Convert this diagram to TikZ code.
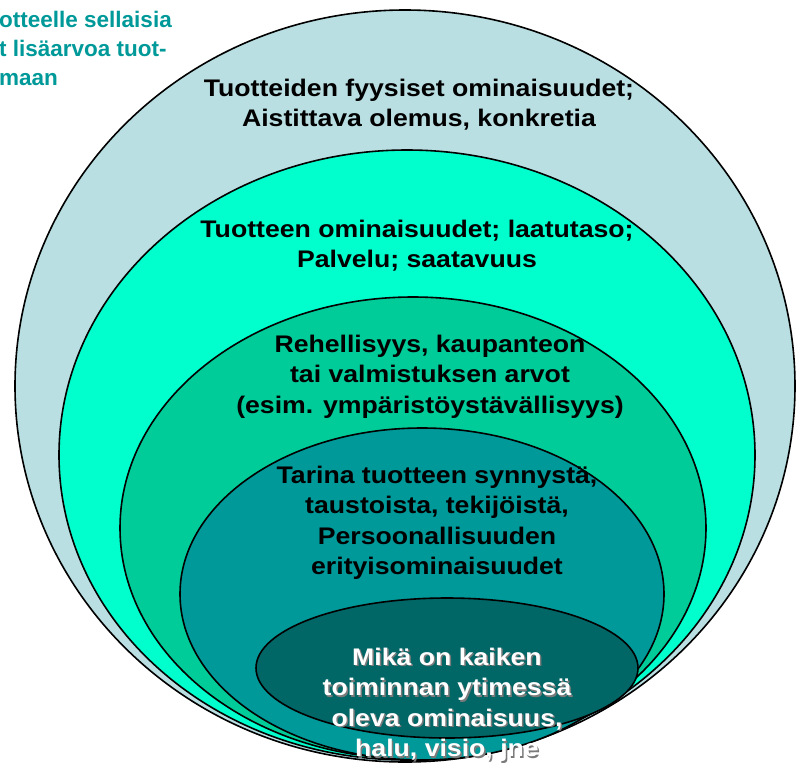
\documentclass[tikz,border=0pt]{standalone}
\usepackage{fontspec}
\setmainfont{Liberation Sans}
\newfontfamily\widefont[FakeStretch=1.11]{Liberation Sans}
\definecolor{ringA}{HTML}{B9DFE3}
\definecolor{ringB}{HTML}{00FFCC}
\definecolor{ringC}{HTML}{00CC99}
\definecolor{ringD}{HTML}{009999}
\definecolor{ringE}{HTML}{006666}
\definecolor{tealtext}{HTML}{009999}
\definecolor{shadowgray}{HTML}{7A7A7A}
\begin{document}
\begin{tikzpicture}[x=1pt,y=-1pt,
  ring/.style={draw=black,line width=1.6pt},
  lbl/.style={font=\widefont\fontsize{24}{30.5}\selectfont\bfseries,align=center,text=black,inner sep=0pt,anchor=north},
  corelbl/.style={lbl,text=white},
  shadowlbl/.style={lbl,text=shadowgray},
  sidelbl/.style={font=\fontsize{22.5}{29}\selectfont\bfseries,align=left,text=tealtext,inner sep=0pt,anchor=north west}]
\useasboundingbox (0,0) rectangle (798,764);
\clip (0,0) rectangle (798,764);
\fill[white] (0,0) rectangle (798,764);
\draw[ring,fill=ringA] (405,386) ellipse [x radius=390pt, y radius=376pt];
\draw[ring,fill=ringB] (407,455) ellipse [x radius=348pt, y radius=305pt];
\draw[ring,fill=ringC] (413,528) ellipse [x radius=293pt, y radius=231pt];
\draw[ring,fill=ringD] (422,594) ellipse [x radius=242pt, y radius=166pt];
\draw[ring,fill=ringE] (447,668) ellipse [x radius=191pt, y radius=70pt];
\node[sidelbl] (side) at (-1,11) {otteelle sellaisia\\t lisäarvoa tuot-\\maan};
\node[lbl] (t1) at (419,78.5) {Tuotteiden fyysiset ominaisuudet;\\Aistittava olemus, konkretia};
\node[lbl] (t2) at (417,219.5) {Tuotteen ominaisuudet; laatutaso;\\Palvelu; saatavuus};
\node[lbl] (t3) at (430,334.5) {Rehellisyys, kaupanteon\\tai valmistuksen arvot\\(esim. ympäristöystävällisyys)};
\node[lbl] (t4) at (437,465.5) {Tarina tuotteen synnystä,\\taustoista, tekijöistä,\\Persoonallisuuden\\erityisominaisuudet};
\node[shadowlbl] (t5s) at (448.5,649) {Mikä on kaiken\\toiminnan ytimessä\\oleva ominaisuus,\\halu, visio, jne};
\node[corelbl] (t5) at (447,647.5) {Mikä on kaiken\\toiminnan ytimessä\\oleva ominaisuus,\\halu, visio, jne};
\end{tikzpicture}
\end{document}
